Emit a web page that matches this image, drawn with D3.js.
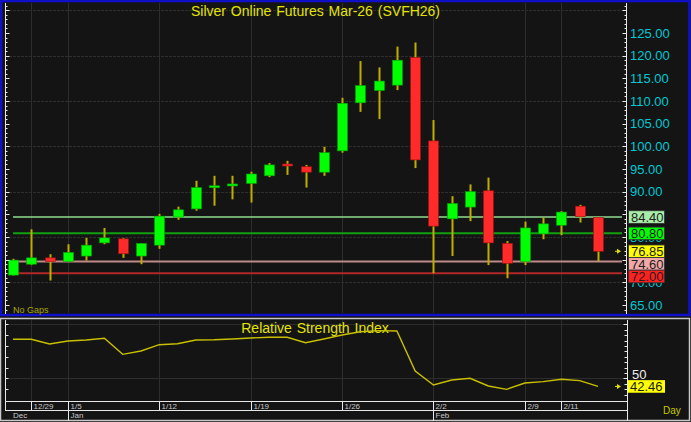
<!DOCTYPE html>
<html><head><meta charset="utf-8">
<script src="https://cdn.jsdelivr.net/npm/d3@7"></script>
<style>
body{margin:0;background:#141414}
svg{display:block}
text{font-family:"Liberation Sans",Arial,sans-serif}
</style>
</head><body>
<svg id="c" width="691" height="422"></svg>
<script>
// ---- data ----
const opens  = [71.6,74.0,75.4,74.6,75.8,78.7,79.6,75.8,78.2,84.4,86.2,90.9,91.6,91.8,93.5,96.1,95.5,94.3,99.0,109.6,112.3,113.5,119.6,101.2,84.0,86.6,90.2,78.6,74.6,80.7,82.6,86.8,84.3];
const highs  = [75.2,81.7,76.2,78.4,79.8,82.0,79.8,78.6,85.1,86.7,92.4,93.5,93.5,94.4,96.3,96.8,95.9,99.9,110.7,118.8,117.4,122.0,122.9,105.8,89.0,91.6,93.1,79.1,83.4,84.3,85.7,87.1,84.4];
const lows   = [71.5,73.8,70.4,74.5,74.8,78.4,75.4,74.0,77.4,83.8,85.8,86.9,88.3,87.6,93.2,93.7,90.9,93.5,98.6,107.6,106.0,112.4,95.2,72.0,75.8,83.5,73.8,70.9,73.8,79.5,80.4,83.2,74.7];
const closes = [74.9,75.4,74.6,76.6,78.2,79.8,76.3,78.6,84.6,86.0,90.9,91.3,91.7,93.9,95.9,95.7,94.3,98.6,109.5,113.4,114.4,119.0,97.0,82.4,87.4,90.0,78.7,74.2,82.0,82.9,85.5,84.5,76.85];
const rsiValues = [86.1,86.1,81.8,84.5,85.5,87.0,72.2,75.3,81.1,82.0,85.5,85.7,86.4,87.3,88.0,88.0,83.0,86.4,90.1,93.1,94.1,93.8,56.8,43.8,48.4,50.0,42.9,39.8,45.6,46.9,49.1,47.8,42.46];
const dateTickIndex = [1,3,8,13,18,23,28,30];
const dateTickLabels = ["12/29","1/5","1/12","1/19","1/26","2/2","2/9","2/11"];
const monthIndex = [0,3,23];
const monthLabels = ["Dec","Jan","Feb"];
const priceTicks = [65,70,80,90,95,100,105,110,115,120,125];
const levelValues = [84.40,80.80,74.60,72.00];
const levelLine = ["#8fdc8f","#10a010","#c08a8a","#b02828"];
const levelBox = ["#a8eea8","#00ff00","#f2a8a8","#ff2020"];
const lastClose = 76.85;
const lastRsi = 42.46;
const title = "Silver Online Futures Mar-26 (SVFH26)";

// ---- layout ----
const svg = d3.select("#c");
const W = 691, H = 422;
const P = {l:5, r:626, t:3, b:314};
const R = {l:5, r:627, t:320, b:401};
const x = d3.scaleLinear().domain([0, opens.length-1]).range([13, 598]);
const y = d3.scaleLinear().domain([65,125]).range([305,33]);
const yr = d3.scaleLinear().domain([50,100]).range([378.3,324.3]);

svg.append("rect").attr("width",W).attr("height",H).attr("fill","#141414");

// frames
svg.append("rect").attr("x",1).attr("y",1).attr("width",W-2.5).attr("height",314).attr("fill","none").attr("stroke","#1010c8").attr("stroke-width",2.5);
svg.append("rect").attr("x",0.5).attr("y",318.5).attr("width",W-2).attr("height",102).attr("fill","none").attr("stroke","#c8c8c8").attr("stroke-width",1.5);

const grid = "#2d2d2d";
const g = svg.append("g");
[70,80,90,100,110,120,130].forEach(v=>{
  g.append("line").attr("x1",P.l).attr("x2",P.r).attr("y1",Math.round(y(v))+0.5).attr("y2",Math.round(y(v))+0.5).attr("stroke",grid).attr("stroke-dasharray","3,1");
});
dateTickIndex.forEach(i=>{
  const xx = Math.round(x(i))+0.5;
  g.append("line").attr("x1",xx).attr("x2",xx).attr("y1",P.t).attr("y2",P.b-1).attr("stroke",grid);
  g.append("line").attr("x1",xx).attr("x2",xx).attr("y1",R.t).attr("y2",R.b).attr("stroke",grid);
});
[50,100].forEach(v=>{
  g.append("line").attr("x1",R.l).attr("x2",R.r).attr("y1",Math.round(yr(v))+0.5).attr("y2",Math.round(yr(v))+0.5).attr("stroke",grid);
});

// title
svg.append("text").attr("x",315.5).attr("y",16).attr("text-anchor","middle").attr("fill","#e4e400").attr("font-size",14).attr("word-spacing",1).text(title);

// level lines
levelValues.forEach((v,k)=>{
  svg.append("line").attr("x1",13).attr("x2",622).attr("y1",y(v)).attr("y2",y(v)).attr("stroke",levelLine[k]).attr("stroke-width",k===0?1.5:2);
});

// candles
const bw = 10;
const cg = svg.append("g");
opens.forEach((o,i)=>{
  const c = closes[i], cx = Math.round(x(i))+0.5;
  cg.append("line").attr("x1",cx).attr("x2",cx).attr("y1",y(highs[i])).attr("y2",y(lows[i])).attr("stroke","#bfae00").attr("stroke-width",2);
  const top = y(Math.max(o,c)), bot = y(Math.min(o,c));
  const up = c >= o;
  cg.append("rect").attr("x",cx-bw/2).attr("y",top).attr("width",bw).attr("height",Math.max(bot-top,2))
    .attr("fill",up?"#00ff00":"#ff2a2a").attr("stroke",up?"#00a000":"#a01010").attr("stroke-width",0.6);
});

// axes main
function minorTicks(sel, xPos, dir, scale, lo, hi, step, majorStep, majLen, minLen, y0, y1){
  for(let v=lo; v<=hi+1e-9; v+=step){
    const yy = Math.round(scale(v))+0.5;
    if(yy<y0||yy>y1) continue;
    const isMaj = Math.abs(v/majorStep - Math.round(v/majorStep))<1e-6;
    sel.append("line").attr("x1",xPos).attr("x2",xPos+dir*(isMaj?majLen:minLen)).attr("y1",yy).attr("y2",yy).attr("stroke","#e8e8e8");
  }
}
svg.append("line").attr("x1",P.l+0.5).attr("x2",P.l+0.5).attr("y1",P.t).attr("y2",P.b).attr("stroke","#e8e8e8");
svg.append("line").attr("x1",P.r+0.5).attr("x2",P.r+0.5).attr("y1",P.t).attr("y2",P.b).attr("stroke","#e8e8e8");
minorTicks(svg, P.l+0.5, 1, y, 63, 131, 1, 5, 4, 2, P.t+3, P.b-1);
minorTicks(svg, P.r+0.5, -1, y, 63, 131, 1, 5, 4, 2, P.t+3, P.b-1);

const ax = d3.axisRight(y).tickValues(priceTicks).tickFormat(d3.format(".2f")).tickSize(0).tickPadding(4);
const axg = svg.append("g").attr("transform",`translate(${P.r},0)`).call(ax);
axg.select(".domain").remove();
axg.selectAll("text").attr("fill","#00c8d2").attr("font-size",13).attr("font-family","Liberation Sans, Arial, sans-serif");

// level boxes
const boxes = [
  {v:levelValues[0], fill:levelBox[0]},
  {v:levelValues[1], fill:levelBox[1]},
  {v:lastClose, fill:"#ffff00"},
  {v:levelValues[2], fill:levelBox[2]},
  {v:levelValues[3], fill:levelBox[3]}
];
let prevBottom = -1e9; const bh = 12.6;
boxes.forEach(b=>{
  let top = y(b.v) - bh/2;
  if(top < prevBottom) top = prevBottom;
  prevBottom = top + bh;
  svg.append("rect").attr("x",628.5).attr("y",top).attr("width",36).attr("height",bh).attr("fill",b.fill).attr("stroke","#303030").attr("stroke-width",0.8);
  svg.append("text").attr("x",631).attr("y",top+bh/2+4.7).attr("fill","#202020").attr("font-size",13).text(d3.format(".2f")(b.v));
});
function marker(yy){
  svg.append("path").attr("d",`M617,${yy-2.5}L621,${yy}L617,${yy+2.5}Z`).attr("fill","#e0e000");
  svg.append("line").attr("x1",615).attr("x2",619).attr("y1",yy).attr("y2",yy).attr("stroke","#e0e000");
}
marker(y(lastClose));

svg.append("text").attr("x",13).attr("y",313).attr("fill","#a8a800").attr("font-size",9).text("No Gaps");

// ---- RSI panel ----
svg.append("text").attr("x",315).attr("y",333).attr("text-anchor","middle").attr("fill","#e4e400").attr("font-size",14).attr("word-spacing",1).text("Relative Strength Index");
const line = d3.line().x((d,i)=>x(i)).y(d=>yr(d));
svg.append("path").datum(rsiValues).attr("d",line).attr("fill","none").attr("stroke","#c8c000").attr("stroke-width",1.4);

svg.append("line").attr("x1",R.l+0.5).attr("x2",R.l+0.5).attr("y1",R.t).attr("y2",R.b).attr("stroke","#e8e8e8");
svg.append("line").attr("x1",R.r+0.5).attr("x2",R.r+0.5).attr("y1",R.t).attr("y2",R.b).attr("stroke","#e8e8e8");
minorTicks(svg, R.l+0.5, 1, yr, 30, 100, 10, 50, 3, 3, R.t+2, R.b-2);
minorTicks(svg, R.r+0.5, -1, yr, 30, 105, 5, 50, 4, 3, R.t+2, R.b-2);

svg.append("text").attr("x",632).attr("y",yr(50)+1).attr("fill","#f0f0f0").attr("font-size",13).text("50");
const ry = yr(lastRsi);
svg.append("rect").attr("x",628).attr("y",ry-6.3).attr("width",37).attr("height",12.6).attr("fill","#ffff00");
svg.append("text").attr("x",630).attr("y",ry+4.7).attr("fill","#202020").attr("font-size",13).text(d3.format(".2f")(lastRsi));
marker(ry);

// date strip
svg.append("line").attr("x1",R.l).attr("x2",R.r+1).attr("y1",R.b+0.5).attr("y2",R.b+0.5).attr("stroke","#e8e8e8");
svg.append("line").attr("x1",R.l).attr("x2",R.r+1).attr("y1",410.5).attr("y2",410.5).attr("stroke","#e8e8e8");
svg.append("line").attr("x1",R.l+0.5).attr("x2",R.l+0.5).attr("y1",R.b).attr("y2",410).attr("stroke","#e8e8e8");
svg.append("line").attr("x1",R.r+0.5).attr("x2",R.r+0.5).attr("y1",R.b).attr("y2",421).attr("stroke","#e8e8e8");
dateTickIndex.forEach((i,k)=>{
  const xx = Math.round(x(i))+0.5;
  svg.append("line").attr("x1",xx).attr("x2",xx).attr("y1",R.b).attr("y2",410).attr("stroke","#e8e8e8");
  svg.append("text").attr("x",xx+2).attr("y",409).attr("fill","#c8c8c8").attr("font-size",8).text(dateTickLabels[k]);
});
monthIndex.forEach((i,k)=>{
  const xx = Math.round(x(i))+0.5;
  if(k>0) svg.append("line").attr("x1",xx).attr("x2",xx).attr("y1",R.b).attr("y2",421).attr("stroke","#e8e8e8");
  svg.append("text").attr("x",k===0?13:xx+2).attr("y",418).attr("fill","#c8c8c8").attr("font-size",8).text(monthLabels[k]);
});
svg.append("text").attr("x",663).attr("y",414).attr("fill","#c8c800").attr("font-size",10).text("Day");
</script>
</body></html>
